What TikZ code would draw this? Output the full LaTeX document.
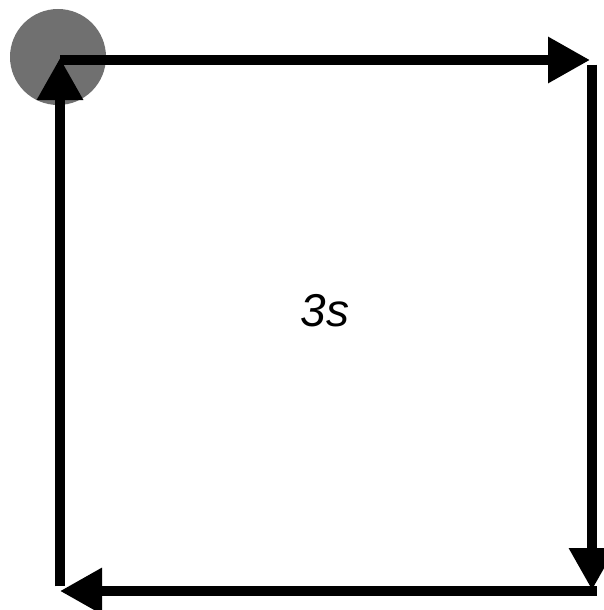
\documentclass[tikz,border=0pt]{standalone}
\usepackage{fontspec}
\setmainfont{Liberation Sans}
\usetikzlibrary{arrows.meta}
\definecolor{dotgray}{RGB}{112,112,112}
\begin{document}
\begin{tikzpicture}[x=1pt,y=-1pt,
  edge/.style={line width=9.5pt,-{Triangle[length=42pt,width=44pt]}},
  lbl/.style={font=\itshape\fontsize{46}{52}\selectfont}]
\useasboundingbox (0,0) rectangle (604,610);
\fill[dotgray] (58,57) circle (48);
\coordinate (tl) at (60,60);
\coordinate (tr) at (592,60);
\coordinate (br) at (592,591);
\coordinate (bl) at (60,591);
\draw[edge] (tl) -- ([xshift=-2pt]tr);
\draw[edge] ([yshift=-4.75pt]tr) -- ([yshift=1pt]br);
\draw[edge] ([xshift=4.75pt]br) -- (bl);
\draw[edge] ([yshift=4.75pt]bl) -- ([yshift=2pt]tl);
\node[lbl] (t) at (325,311) {3s};
\end{tikzpicture}
\end{document}
